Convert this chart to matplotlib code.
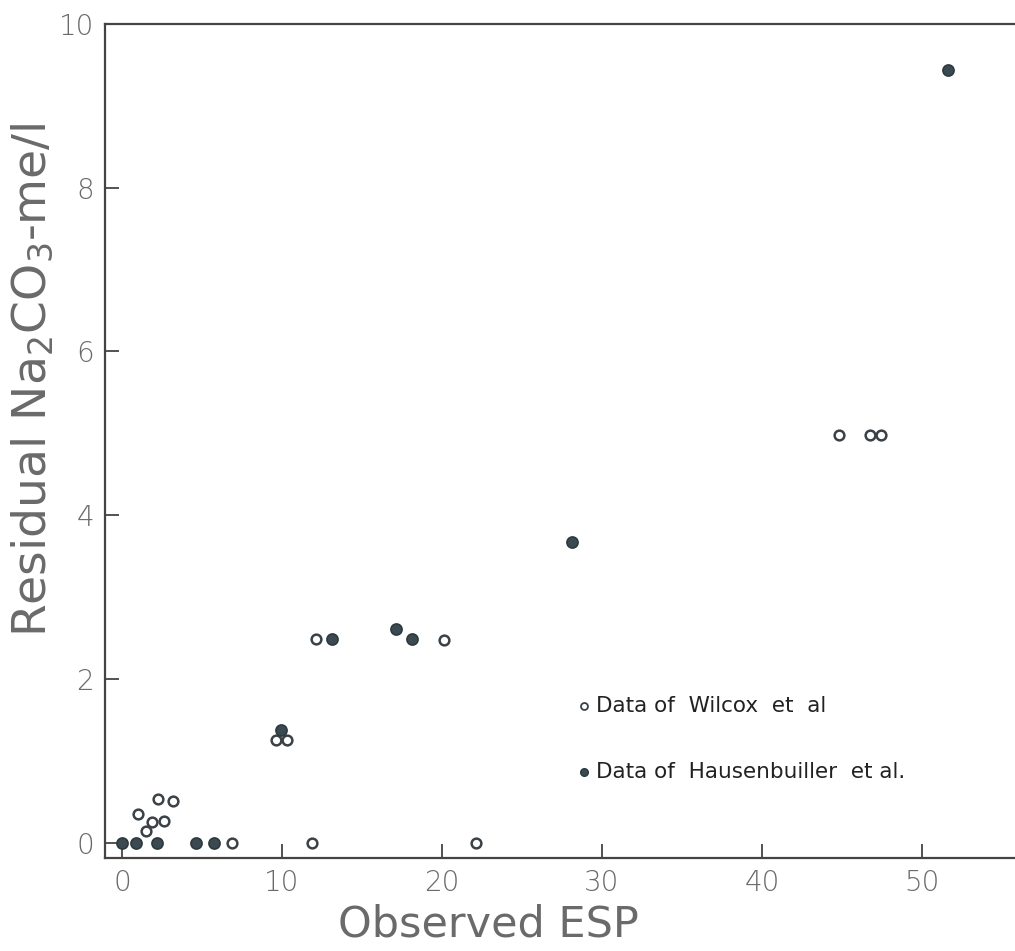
import matplotlib
matplotlib.use("Agg")
import matplotlib.pyplot as plt

# Wilcox et al (open circles)
wilcox_x = [1.0, 1.5, 1.9, 2.25, 2.6, 3.2, 6.9, 9.6, 10.3, 11.9, 12.1, 20.1, 22.1, 44.8, 46.75, 47.4]
wilcox_y = [0.35, 0.15, 0.26, 0.54, 0.27, 0.51, 0.0, 1.26, 1.26, 0.0, 2.49, 2.48, 0.0, 4.98, 4.98, 4.98]

# Hausenbuiller et al (filled circles)
haus_x = [0.0, 0.9, 2.2, 4.6, 5.75, 9.95, 13.1, 17.1, 18.1, 28.1, 51.6]
haus_y = [0.0, 0.0, 0.0, 0.0, 0.0, 1.38, 2.49, 2.61, 2.49, 3.68, 9.43]

xticks = [0, 10, 20, 30, 40, 50]
yticks = [0, 2, 4, 6, 8, 10]

gray = "#6a6a6a"

fig = plt.figure(figsize=(10.15, 9.51), dpi=100)
ax = fig.add_axes([0.1034, 0.098, 0.8966, 0.877])

ax.plot(wilcox_x, wilcox_y, "o", ms=7, mfc="white", mec="#3a4248", mew=1.8, ls="none")
ax.plot(haus_x, haus_y, "o", ms=8, mfc="#3a4a50", mec="#2c3a40", mew=1.2, ls="none")

ax.set_xlim(-1.06, 55.8)
ax.set_ylim(-0.18, 10.0)
ax.set_xticks(xticks)
ax.set_yticks(yticks)
ax.tick_params(direction="in", length=10, width=1.3, colors="#444444",
               labelsize=20, labelcolor=gray, pad=8)
for lab in ax.get_xticklabels() + ax.get_yticklabels():
    lab.set_fontweight("light")

ax.spines["right"].set_visible(False)
for s in ["left", "bottom", "top"]:
    ax.spines[s].set_linewidth(1.6)
    ax.spines[s].set_color("#444444")

ax.set_xlabel("Observed ESP", fontsize=31, color=gray)
ax.xaxis.set_label_coords(0.421, -0.055)
ax.set_ylabel("Residual Na$_2$CO$_3$-me/l", fontsize=34, color=gray)
ax.yaxis.set_label_coords(-0.054, 0.573)

# legend drawn as text with marker
ax.plot([28.9], [1.67], "o", ms=5, mfc="white", mec="#3a4248", mew=1.3)
ax.text(29.6, 1.67, "Data of  Wilcox  et  al", fontsize=15.5, va="center",
        color="#222222", fontweight="medium")
ax.plot([28.9], [0.87], "o", ms=5.5, mfc="#3a4a50", mec="#2c3a40", mew=1.0)
ax.text(29.6, 0.87, "Data of  Hausenbuiller  et al.", fontsize=15.5, va="center",
        color="#222222", fontweight="medium")

fig.savefig("out.png", dpi=100)
